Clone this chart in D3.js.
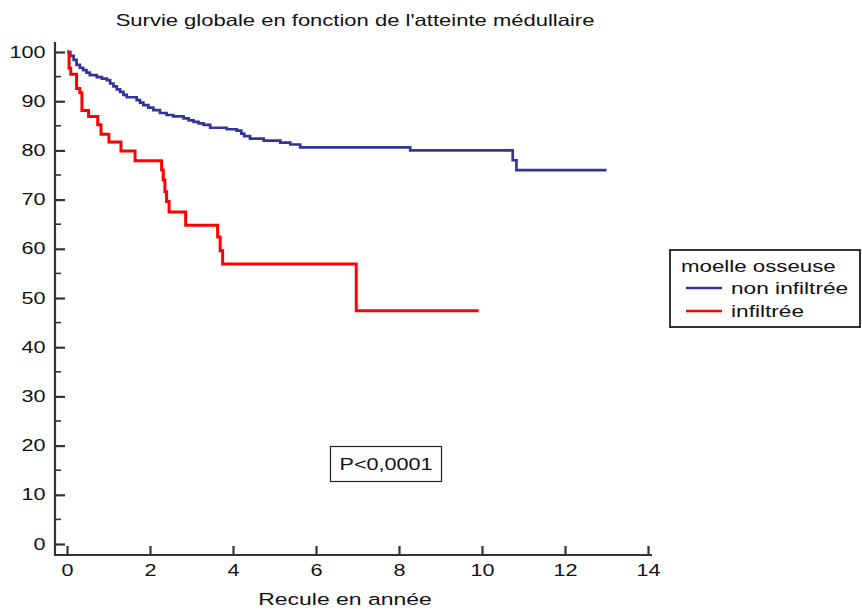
<!DOCTYPE html>
<html>
<head>
<meta charset="utf-8">
<script src="https://cdn.jsdelivr.net/npm/d3@7"></script>
<style>
  body { margin: 0; background: #fff; }
  svg { display: block; font-family: "Liberation Sans", Arial, sans-serif; }
</style>
</head>
<body>
<svg id="chart" width="862" height="610"></svg>
<script>
// survie globale, moelle non infiltrée (années, %)
const nonInfTimes = [0, 0.08, 0.16, 0.23, 0.31, 0.39, 0.47, 0.55, 0.72, 0.84, 0.96, 1.04, 1.12, 1.20, 1.28, 1.36, 1.44, 1.68, 1.76, 1.84, 1.96, 2.08, 2.24, 2.40, 2.56, 2.81, 2.93, 3.05, 3.17, 3.29, 3.45, 3.85, 4.09, 4.20, 4.27, 4.41, 4.74, 5.14, 5.38, 5.62, 8.27, 10.74, 10.83, 13.0];
const nonInfSurv  = [100, 99.2, 98.4, 97.4, 96.8, 96.3, 95.8, 95.3, 94.9, 94.6, 94.3, 93.6, 93.0, 92.4, 91.9, 91.3, 90.8, 90.2, 89.7, 89.2, 88.7, 88.2, 87.6, 87.2, 86.9, 86.5, 86.1, 85.8, 85.5, 85.2, 84.6, 84.3, 84.0, 83.4, 82.9, 82.4, 82.0, 81.6, 81.2, 80.6, 80.0, 78.0, 76.0, 76.0];

// moelle infiltrée
const infTimes = [0, 0.05, 0.09, 0.23, 0.31, 0.36, 0.52, 0.74, 0.82, 1.01, 1.30, 1.64, 2.28, 2.32, 2.36, 2.40, 2.46, 2.86, 3.63, 3.69, 3.75, 6.97, 9.92];
const infSurv  = [100, 96.7, 95.5, 92.6, 91.7, 88.1, 86.9, 85.2, 83.3, 81.7, 79.9, 77.9, 76.0, 74.0, 71.6, 69.6, 67.5, 64.8, 62.4, 59.6, 56.9, 47.4, 47.4];

const xTicks = [0, 2, 4, 6, 8, 10, 12, 14];
const yTicks = [0, 10, 20, 30, 40, 50, 60, 70, 80, 90, 100];
const yMinor = [5, 15, 25, 35, 45, 55, 65, 75, 85, 95];

const seriesNames = ["non infiltrée", "infiltrée"];
const seriesColors = ["#333399", "#ff0000"];

const STRETCH = 1.35; // texte élargi comme sur l'original
const axisColor = "#333";

const svg = d3.select("#chart");
const x = d3.scaleLinear().domain([0, 14]).range([67, 648]);
const y = d3.scaleLinear().domain([0, 100]).range([544, 52]);

function wideText(sel, px, py) {
  return sel.attr("transform", `translate(${px},${py}) scale(${STRETCH},1)`);
}

// title
wideText(svg.append("text"), 355, 26)
  .attr("text-anchor", "middle").attr("font-size", 16.3).attr("fill", "#111")
  .text("Survie globale en fonction de l'atteinte médullaire");

// axes lines
svg.append("line").attr("x1", 55).attr("x2", 55).attr("y1", 42).attr("y2", 556)
  .attr("stroke", axisColor).attr("stroke-width", 2.2);
svg.append("line").attr("x1", 54).attr("x2", 652).attr("y1", 555).attr("y2", 555)
  .attr("stroke", axisColor).attr("stroke-width", 2.2);

// y axis
const yAxis = svg.append("g").attr("transform", "translate(55,0)")
  .call(d3.axisLeft(y).tickValues(yTicks).tickSize(-10).tickPadding(7).tickFormat(d3.format("d")));
yAxis.select(".domain").remove();
yAxis.selectAll(".tick line").attr("stroke", axisColor).attr("stroke-width", 2.2);
yAxis.selectAll(".tick text")
  .attr("font-size", 16).attr("fill", "#111").attr("font-family", "Liberation Sans, Arial, sans-serif")
  .attr("transform", `scale(${STRETCH},1)`);

svg.append("g").selectAll("line").data(yMinor).join("line")
  .attr("x1", 55).attr("x2", 61)
  .attr("y1", d => y(d)).attr("y2", d => y(d))
  .attr("stroke", axisColor).attr("stroke-width", 1.6);

// x axis
const xAxis = svg.append("g").attr("transform", "translate(0,555)")
  .call(d3.axisBottom(x).tickValues(xTicks).tickSize(-9).tickPadding(10).tickFormat(d3.format("d")));
xAxis.select(".domain").remove();
xAxis.selectAll(".tick line").attr("stroke", axisColor).attr("stroke-width", 2.2);
xAxis.selectAll(".tick text")
  .attr("font-size", 16).attr("fill", "#111").attr("font-family", "Liberation Sans, Arial, sans-serif")
  .attr("transform", `scale(${STRETCH},1)`);

wideText(svg.append("text"), 345, 605)
  .attr("text-anchor", "middle").attr("font-size", 17).attr("fill", "#111")
  .text("Recule en année");

// survival curves
const line = d3.line().curve(d3.curveStepAfter).x(d => x(d[0])).y(d => y(d[1]));
const curves = [
  d3.zip(nonInfTimes, nonInfSurv),
  d3.zip(infTimes, infSurv)
];
svg.append("g").selectAll("path").data(curves).join("path")
  .attr("d", line)
  .attr("fill", "none")
  .attr("stroke", (d, i) => seriesColors[i])
  .attr("stroke-width", (d, i) => i ? 3 : 2.7)
  .attr("stroke-linejoin", "miter");

// p value box
svg.append("rect").attr("x", 330.5).attr("y", 446.5).attr("width", 111).attr("height", 35)
  .attr("fill", "#fff").attr("stroke", "#222").attr("stroke-width", 1.2);
wideText(svg.append("text"), 386, 470)
  .attr("text-anchor", "middle").attr("font-size", 16).attr("fill", "#111")
  .text("P<0,0001");

// legend
const legend = svg.append("g");
legend.append("rect").attr("x", 670).attr("y", 250).attr("width", 190).attr("height", 77)
  .attr("fill", "#fff").attr("stroke", "#333").attr("stroke-width", 2);
wideText(legend.append("text"), 681, 272)
  .attr("font-size", 16.5).attr("fill", "#111").text("moelle osseuse");
seriesNames.forEach((name, i) => {
  const ly = 288 + i * 23;
  legend.append("line").attr("x1", 686).attr("x2", 722).attr("y1", ly).attr("y2", ly)
    .attr("stroke", seriesColors[i]).attr("stroke-width", 2.5);
  wideText(legend.append("text"), 731, ly + 6)
    .attr("font-size", 16.8).attr("fill", "#111").text(name);
});
</script>
</body>
</html>
